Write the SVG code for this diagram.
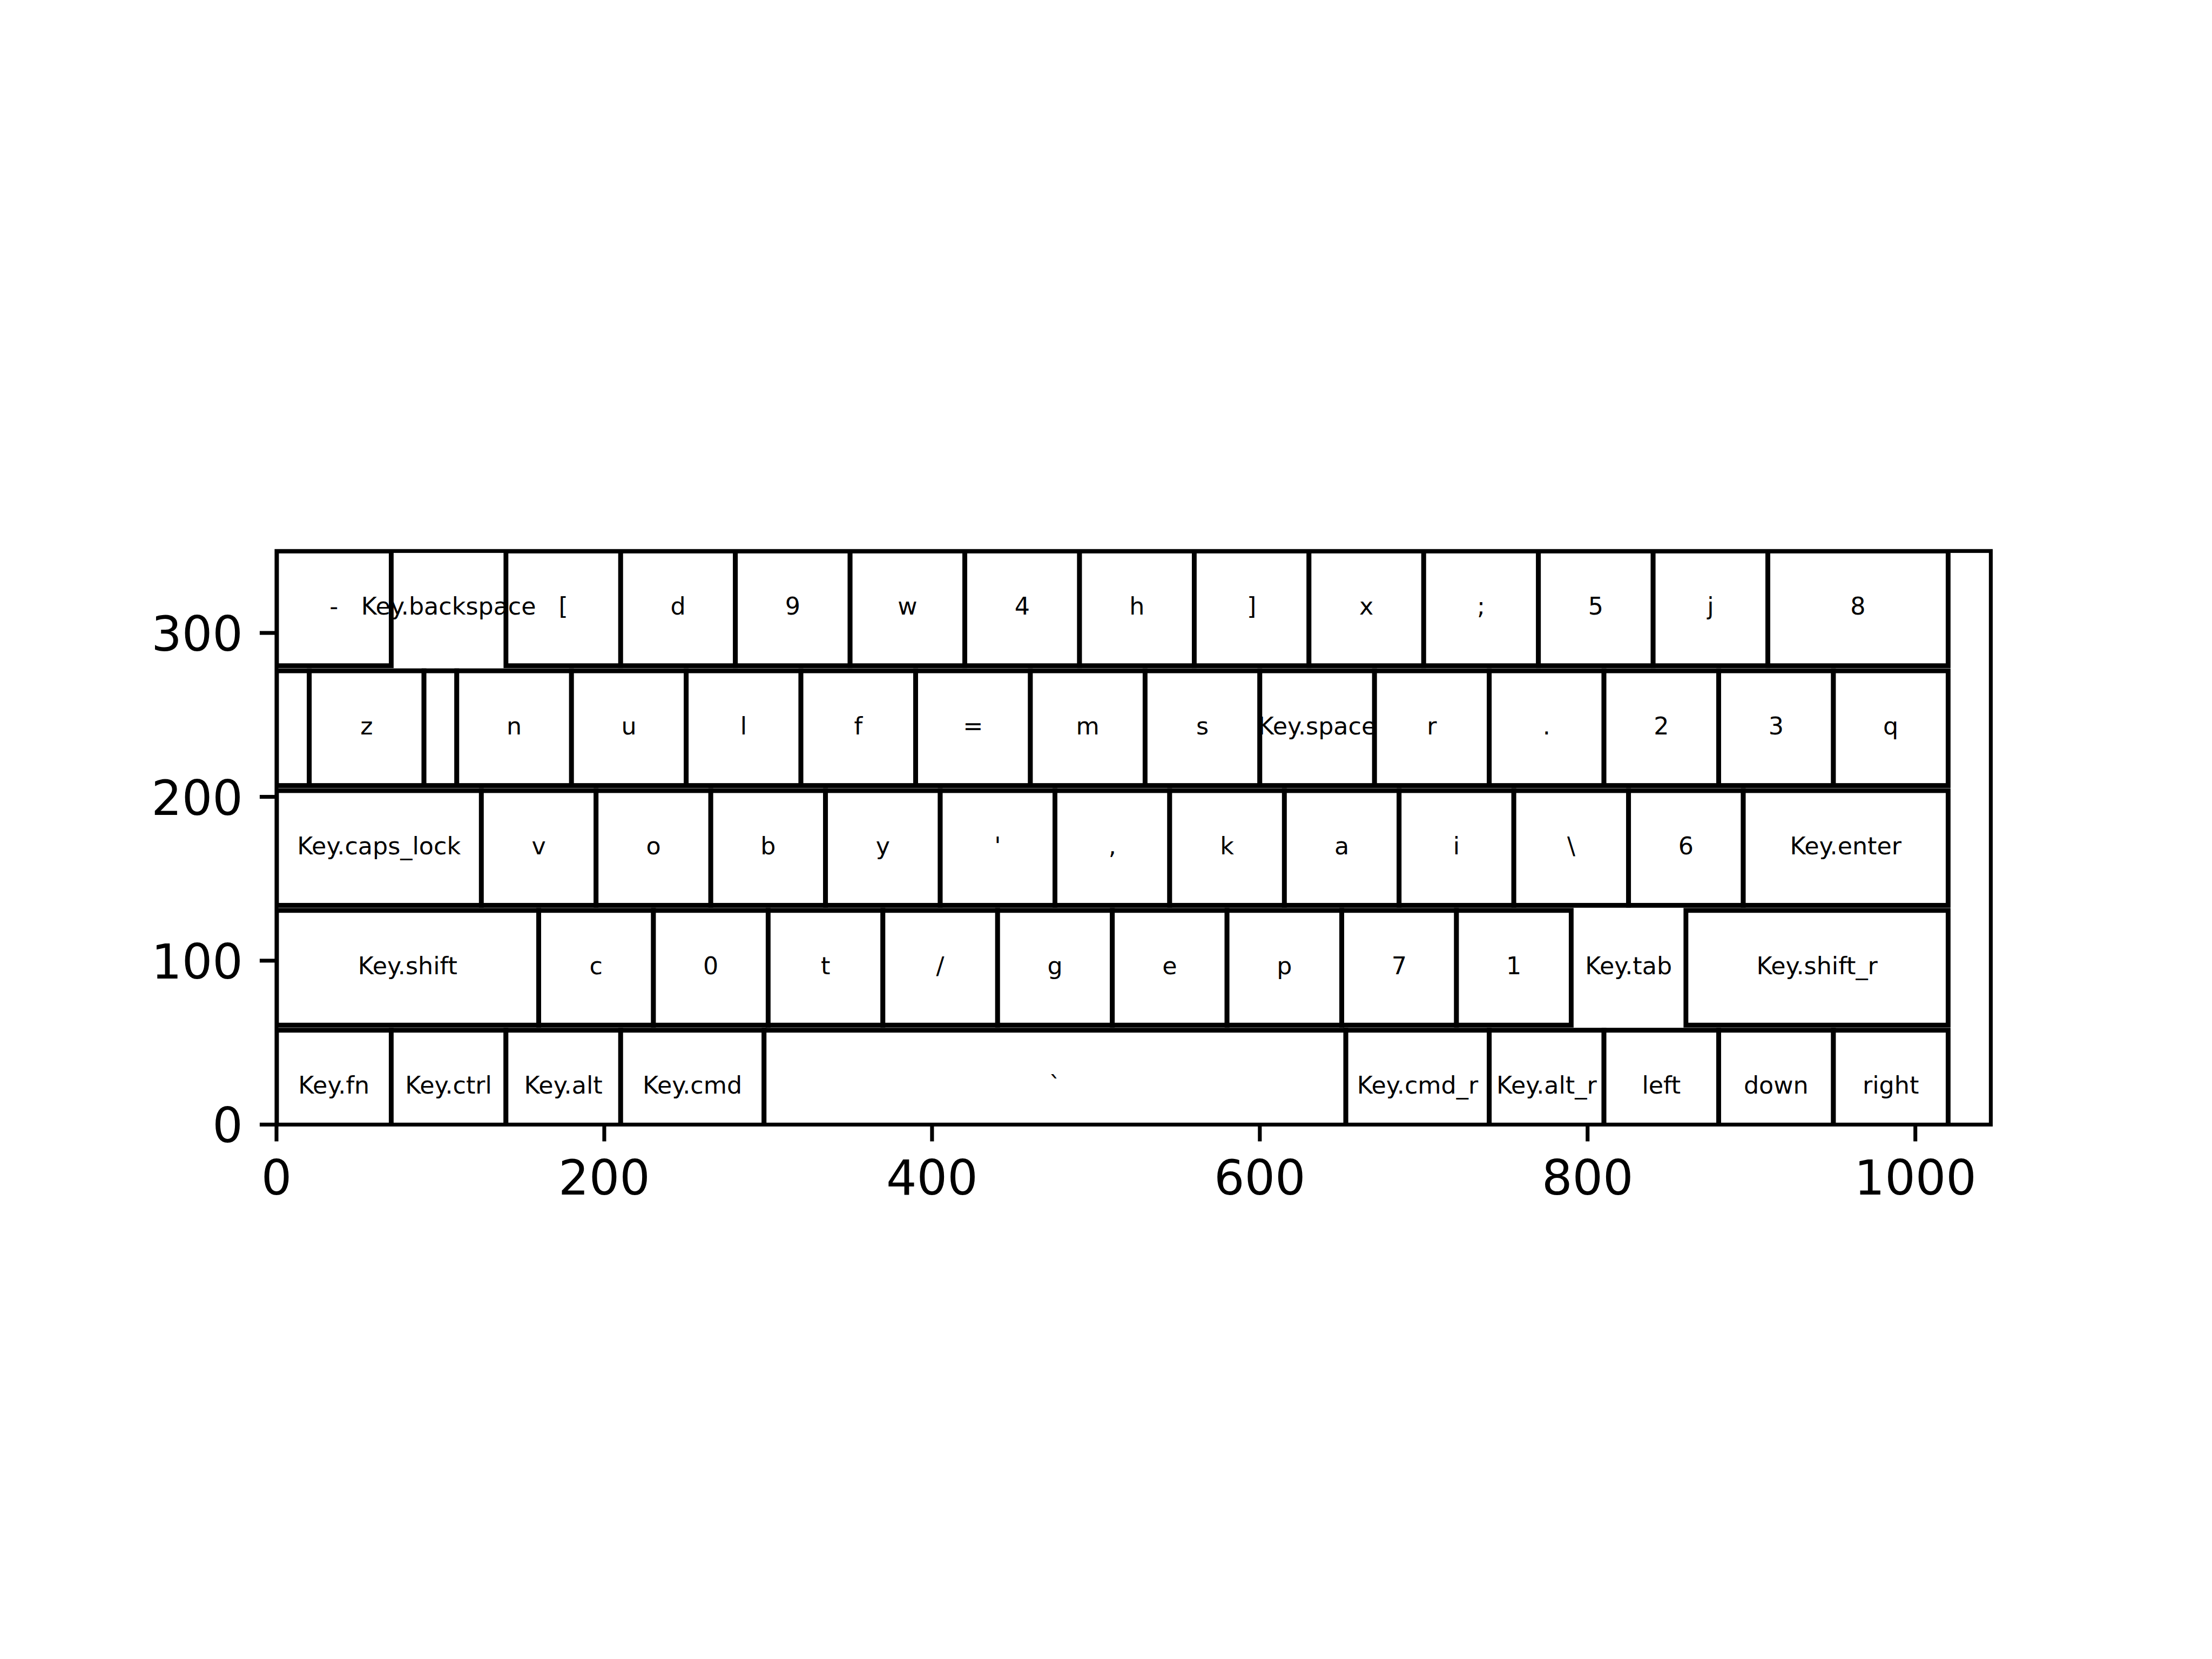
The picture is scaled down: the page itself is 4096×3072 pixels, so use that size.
<svg xmlns="http://www.w3.org/2000/svg" width="4096" height="3072" viewBox="0 0 4096 3072">
<defs>
<style>
.k{fill:#fff;stroke:#000;stroke-width:2.93}
.hk{fill:#fff;stroke:#fff;stroke-width:2.93}
.lb{font-family:'DejaVu Sans',sans-serif;font-size:14.63px;text-anchor:middle;fill:#000}
.tk{stroke:#000;stroke-width:7.11}
.tl{font-family:'DejaVu Sans',sans-serif;font-size:88.9px;fill:#000}
.tx{text-anchor:middle}
.ty{text-anchor:end}
.sp{fill:none;stroke:#000;stroke-width:7.11}
</style>
<clipPath id="ax"><rect x="0" y="0" width="1046" height="350"/></clipPath>
</defs>
<rect width="4096" height="3072" fill="#fff"/>
<g id="keys" transform="translate(512,1020.3) scale(3.0347)">
<g clip-path="url(#ax)">
<g id="key-backspace"><rect class="hk" x="70" y="0" width="70" height="70"/></g>
<g id="key-tab"><rect class="hk" x="790" y="219.3" width="70" height="70"/></g>
<!-- row 1 -->
<g id="key-minus"><rect class="k" x="0" y="0" width="70" height="70"/></g>
<g id="key-lbracket"><rect class="k" x="140" y="0" width="70" height="70"/></g>
<g id="key-d"><rect class="k" x="210" y="0" width="70" height="70"/></g>
<g id="key-9"><rect class="k" x="280" y="0" width="70" height="70"/></g>
<g id="key-w"><rect class="k" x="350" y="0" width="70" height="70"/></g>
<g id="key-4"><rect class="k" x="420" y="0" width="70" height="70"/></g>
<g id="key-h"><rect class="k" x="490" y="0" width="70" height="70"/></g>
<g id="key-rbracket"><rect class="k" x="560" y="0" width="70" height="70"/></g>
<g id="key-x"><rect class="k" x="630" y="0" width="70" height="70"/></g>
<g id="key-semicolon"><rect class="k" x="700" y="0" width="70" height="70"/></g>
<g id="key-5"><rect class="k" x="770" y="0" width="70" height="70"/></g>
<g id="key-j"><rect class="k" x="840" y="0" width="70" height="70"/></g>
<g id="key-8"><rect class="k" x="910" y="0" width="110" height="70"/></g>
<!-- row 2 -->
<g id="key-blank1"><rect class="k" x="0" y="73.1" width="20" height="70"/></g>
<g id="key-z"><rect class="k" x="20" y="73.1" width="70" height="70"/></g>
<g id="key-blank2"><rect class="k" x="90" y="73.1" width="20" height="70"/></g>
<g id="key-n"><rect class="k" x="110" y="73.1" width="70" height="70"/></g>
<g id="key-u"><rect class="k" x="180" y="73.1" width="70" height="70"/></g>
<g id="key-l"><rect class="k" x="250" y="73.1" width="70" height="70"/></g>
<g id="key-f"><rect class="k" x="320" y="73.1" width="70" height="70"/></g>
<g id="key-equal"><rect class="k" x="390" y="73.1" width="70" height="70"/></g>
<g id="key-m"><rect class="k" x="460" y="73.1" width="70" height="70"/></g>
<g id="key-s"><rect class="k" x="530" y="73.1" width="70" height="70"/></g>
<g id="key-space"><rect class="k" x="600" y="73.1" width="70" height="70"/></g>
<g id="key-r"><rect class="k" x="670" y="73.1" width="70" height="70"/></g>
<g id="key-period"><rect class="k" x="740" y="73.1" width="70" height="70"/></g>
<g id="key-2"><rect class="k" x="810" y="73.1" width="70" height="70"/></g>
<g id="key-3"><rect class="k" x="880" y="73.1" width="70" height="70"/></g>
<g id="key-q"><rect class="k" x="950" y="73.1" width="70" height="70"/></g>
<!-- row 3 -->
<g id="key-caps_lock"><rect class="k" x="0" y="146.2" width="125" height="70"/></g>
<g id="key-v"><rect class="k" x="125" y="146.2" width="70" height="70"/></g>
<g id="key-o"><rect class="k" x="195" y="146.2" width="70" height="70"/></g>
<g id="key-b"><rect class="k" x="265" y="146.2" width="70" height="70"/></g>
<g id="key-y"><rect class="k" x="335" y="146.2" width="70" height="70"/></g>
<g id="key-quote"><rect class="k" x="405" y="146.2" width="70" height="70"/></g>
<g id="key-comma"><rect class="k" x="475" y="146.2" width="70" height="70"/></g>
<g id="key-k"><rect class="k" x="545" y="146.2" width="70" height="70"/></g>
<g id="key-a"><rect class="k" x="615" y="146.2" width="70" height="70"/></g>
<g id="key-i"><rect class="k" x="685" y="146.2" width="70" height="70"/></g>
<g id="key-backslash"><rect class="k" x="755" y="146.2" width="70" height="70"/></g>
<g id="key-6"><rect class="k" x="825" y="146.2" width="70" height="70"/></g>
<g id="key-enter"><rect class="k" x="895" y="146.2" width="125" height="70"/></g>
<!-- row 4 -->
<g id="key-shift"><rect class="k" x="0" y="219.3" width="160" height="70"/></g>
<g id="key-c"><rect class="k" x="160" y="219.3" width="70" height="70"/></g>
<g id="key-0"><rect class="k" x="230" y="219.3" width="70" height="70"/></g>
<g id="key-t"><rect class="k" x="300" y="219.3" width="70" height="70"/></g>
<g id="key-slash"><rect class="k" x="370" y="219.3" width="70" height="70"/></g>
<g id="key-g"><rect class="k" x="440" y="219.3" width="70" height="70"/></g>
<g id="key-e"><rect class="k" x="510" y="219.3" width="70" height="70"/></g>
<g id="key-p"><rect class="k" x="580" y="219.3" width="70" height="70"/></g>
<g id="key-7"><rect class="k" x="650" y="219.3" width="70" height="70"/></g>
<g id="key-1"><rect class="k" x="720" y="219.3" width="70" height="70"/></g>
<g id="key-shift_r"><rect class="k" x="860" y="219.3" width="160" height="70"/></g>
<!-- row 5 -->
<g id="key-fn"><rect class="k" x="0" y="292.4" width="70" height="70"/></g>
<g id="key-ctrl"><rect class="k" x="70" y="292.4" width="70" height="70"/></g>
<g id="key-alt"><rect class="k" x="140" y="292.4" width="70" height="70"/></g>
<g id="key-cmd"><rect class="k" x="210" y="292.4" width="87.5" height="70"/></g>
<g id="key-grave"><rect class="k" x="297.5" y="292.4" width="355" height="70"/></g>
<g id="key-cmd_r"><rect class="k" x="652.5" y="292.4" width="87.5" height="70"/></g>
<g id="key-alt_r"><rect class="k" x="740" y="292.4" width="70" height="70"/></g>
<g id="key-left"><rect class="k" x="810" y="292.4" width="70" height="70"/></g>
<g id="key-down"><rect class="k" x="880" y="292.4" width="70" height="70"/></g>
<g id="key-right"><rect class="k" x="950" y="292.4" width="70" height="70"/></g>
</g>
<g id="labels" class="lb">
<text x="35" y="38.83">-</text>
<text x="105" y="38.83">Key.backspace</text>
<text x="175" y="38.83">[</text>
<text x="245" y="38.83">d</text>
<text x="315" y="38.83">9</text>
<text x="385" y="38.83">w</text>
<text x="455" y="38.83">4</text>
<text x="525" y="38.83">h</text>
<text x="595" y="38.83">]</text>
<text x="665" y="38.83">x</text>
<text x="735" y="38.83">;</text>
<text x="805" y="38.83">5</text>
<text x="875" y="38.83">j</text>
<text x="965" y="38.83">8</text>
<text x="55" y="111.93">z</text>
<text x="145" y="111.93">n</text>
<text x="215" y="111.93">u</text>
<text x="285" y="111.93">l</text>
<text x="355" y="111.93">f</text>
<text x="425" y="111.93">=</text>
<text x="495" y="111.93">m</text>
<text x="565" y="111.93">s</text>
<text x="635" y="111.93">Key.space</text>
<text x="705" y="111.93">r</text>
<text x="775" y="111.93">.</text>
<text x="845" y="111.93">2</text>
<text x="915" y="111.93">3</text>
<text x="985" y="111.93">q</text>
<text x="62.5" y="185.03">Key.caps_lock</text>
<text x="160" y="185.03">v</text>
<text x="230" y="185.03">o</text>
<text x="300" y="185.03">b</text>
<text x="370" y="185.03">y</text>
<text x="440" y="185.03">'</text>
<text x="510" y="185.03">,</text>
<text x="580" y="185.03">k</text>
<text x="650" y="185.03">a</text>
<text x="720" y="185.03">i</text>
<text x="790" y="185.03">\</text>
<text x="860" y="185.03">6</text>
<text x="957.5" y="185.03">Key.enter</text>
<text x="80" y="258.13">Key.shift</text>
<text x="195" y="258.13">c</text>
<text x="265" y="258.13">0</text>
<text x="335" y="258.13">t</text>
<text x="405" y="258.13">/</text>
<text x="475" y="258.13">g</text>
<text x="545" y="258.13">e</text>
<text x="615" y="258.13">p</text>
<text x="685" y="258.13">7</text>
<text x="755" y="258.13">1</text>
<text x="825" y="258.13">Key.tab</text>
<text x="940" y="258.13">Key.shift_r</text>
<text x="35" y="331.23">Key.fn</text>
<text x="105" y="331.23">Key.ctrl</text>
<text x="175" y="331.23">Key.alt</text>
<text x="253.75" y="331.23">Key.cmd</text>
<text x="475" y="331.23">`</text>
<text x="696.25" y="331.23">Key.cmd_r</text>
<text x="775" y="331.23">Key.alt_r</text>
<text x="845" y="331.23">left</text>
<text x="915" y="331.23">down</text>
<text x="985" y="331.23">right</text>
</g>
</g>
<g id="axes">
<rect class="sp" x="512" y="1020.3" width="3174.4" height="1062.1"/>
<g class="tk">
<line x1="512" y1="2082.4" x2="512" y2="2113.5"/>
<line x1="1118.94" y1="2082.4" x2="1118.94" y2="2113.5"/>
<line x1="1725.88" y1="2082.4" x2="1725.88" y2="2113.5"/>
<line x1="2332.82" y1="2082.4" x2="2332.82" y2="2113.5"/>
<line x1="2939.76" y1="2082.4" x2="2939.76" y2="2113.5"/>
<line x1="3546.7" y1="2082.4" x2="3546.7" y2="2113.5"/>
<line x1="512" y1="2082.4" x2="480.9" y2="2082.4"/>
<line x1="512" y1="1778.9" x2="480.9" y2="1778.9"/>
<line x1="512" y1="1475.5" x2="480.9" y2="1475.5"/>
<line x1="512" y1="1172.0" x2="480.9" y2="1172.0"/>
</g>
<g class="tl tx">
<text x="512" y="2212.2">0</text>
<text x="1118.94" y="2212.2">200</text>
<text x="1725.88" y="2212.2">400</text>
<text x="2332.82" y="2212.2">600</text>
<text x="2939.76" y="2212.2">800</text>
<text x="3546.7" y="2212.2">1000</text>
</g>
<g class="tl ty">
<text x="449.8" y="2115.4">0</text>
<text x="449.8" y="1811.9">100</text>
<text x="449.8" y="1508.5">200</text>
<text x="449.8" y="1205.0">300</text>
</g>
</g>
</svg>
